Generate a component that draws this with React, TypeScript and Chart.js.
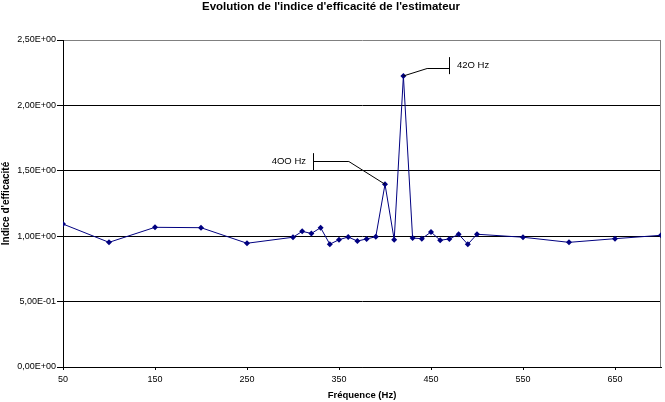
import React, { useEffect, useRef } from "react";
import { Chart, registerables } from "chart.js";

Chart.register(...registerables);

const frequencies = [50, 100, 150, 200, 250, 300, 310, 320, 330, 340, 350, 360, 370, 380, 390, 400, 410, 420, 430, 440, 450, 460, 470, 480, 490, 500, 550, 600, 650, 700];
const efficiency = [1.093, 0.953, 1.068, 1.065, 0.946, 0.992, 1.037, 1.021, 1.065, 0.939, 0.973, 0.994, 0.963, 0.979, 0.996, 1.397, 0.973, 2.225, 0.986, 0.981, 1.032, 0.969, 0.979, 1.015, 0.938, 1.015, 0.992, 0.953, 0.981, 1.007];

const xTickValues = [50, 150, 250, 350, 450, 550, 650];
const yTickValues = [0, 0.5, 1, 1.5, 2, 2.5];

const chartTitle = "Evolution de l'indice d'efficacité de l'estimateur";
const xAxisTitle = "Fréquence (Hz)";
const yAxisTitle = "Indice d'efficacité";

const calloutLabels = ["4OO Hz", "42O Hz"];
const calloutTargets = [400, 420];
const calloutTickHz = [321.6, 469.2];
const calloutLabelVal = [1.57, 2.304];
const calloutLeaderVal = [1.575, 2.284];
const calloutElbowHz = [360.7, 445.8];
const calloutSide = ["left", "right"];

const FONT = "'Liberation Sans', Arial, sans-serif";

function sci(v: number): string {
  const [m, e] = v.toExponential(2).split("e");
  const n = parseInt(e, 10);
  return m.replace(".", ",") + "E" + (n < 0 ? "-" : "+") + String(Math.abs(n)).padStart(2, "0");
}

const framePlugin = {
  id: "frame",
  beforeDatasetsDraw(chart: any) {
    const { ctx, chartArea: a } = chart;
    ctx.save();
    ctx.strokeStyle = "#808080";
    ctx.lineWidth = 1;
    ctx.beginPath();
    const rx = Math.round(a.right) - 0.5;
    ctx.moveTo(rx, Math.round(a.top));
    ctx.lineTo(rx, Math.round(a.bottom));
    ctx.stroke();
    ctx.restore();
  },
};

const calloutPlugin = {
  id: "callouts",
  afterDatasetsDraw(chart: any) {
    const { ctx } = chart;
    const xs = chart.scales.x;
    const ys = chart.scales.y;
    ctx.save();
    ctx.strokeStyle = "#000000";
    ctx.fillStyle = "#000000";
    ctx.lineWidth = 1;
    ctx.font = `9.5px ${FONT}`;
    ctx.textBaseline = "middle";
    for (let i = 0; i < calloutLabels.length; i++) {
      const idx = frequencies.indexOf(calloutTargets[i]);
      const px = xs.getPixelForValue(calloutTargets[i]);
      const py = ys.getPixelForValue(efficiency[idx]);
      const tx = Math.round(xs.getPixelForValue(calloutTickHz[i])) + 0.5;
      const ly = ys.getPixelForValue(calloutLabelVal[i]);
      const hy = Math.round(ys.getPixelForValue(calloutLeaderVal[i])) + 0.5;
      const ex = xs.getPixelForValue(calloutElbowHz[i]);
      ctx.beginPath();
      ctx.moveTo(tx, ly - 8.5);
      ctx.lineTo(tx, ly + 8.5);
      ctx.moveTo(tx, hy);
      ctx.lineTo(ex, hy);
      ctx.lineTo(px, py);
      ctx.stroke();
      if (calloutSide[i] === "left") {
        ctx.textAlign = "right";
        ctx.fillText(calloutLabels[i], tx - 7.5, ly);
      } else {
        ctx.textAlign = "left";
        ctx.fillText(calloutLabels[i], tx + 7.5, ly);
      }
    }
    ctx.restore();
  },
};

export default function App() {
  const canvasRef = useRef<HTMLCanvasElement | null>(null);

  useEffect(() => {
    const canvas = canvasRef.current;
    if (!canvas) return;
    const chart = new Chart(canvas, {
      type: "line",
      data: {
        datasets: [
          {
            data: frequencies.map((f, i) => ({ x: f, y: efficiency[i] })),
            borderColor: "#000080",
            backgroundColor: "#000080",
            borderWidth: 1,
            pointStyle: "rectRot",
            pointRadius: 3,
            pointBorderWidth: 0,
            tension: 0,
            fill: false,
          },
        ],
      },
      options: {
        responsive: false,
        animation: false,
        events: [],
        layout: { padding: { top: 0, right: 3, bottom: 0, left: 0 } },
        plugins: {
          legend: { display: false },
          tooltip: { enabled: false },
          title: {
            display: true,
            text: chartTitle,
            color: "#000000",
            font: { family: FONT, size: 11.5, weight: "bold", lineHeight: 1.2 },
            padding: { top: 0, bottom: 26.2 },
          },
        },
        scales: {
          x: {
            type: "linear",
            min: 50,
            max: 700,
            afterBuildTicks: (scale: any) => {
              scale.ticks = xTickValues.map((v) => ({ value: v }));
            },
            afterFit: (scale: any) => {
              scale.height = 35;
            },
            ticks: {
              color: "#000000",
              font: { family: FONT, size: 9 },
              padding: 4,
              maxRotation: 0,
              autoSkip: false,
              callback: (v: any) => String(v),
            },
            grid: {
              drawOnChartArea: false,
              drawTicks: true,
              tickLength: 3,
              tickColor: "#000000",
              color: "#000000",
            },
            border: { display: true, color: "#000000", width: 1 },
            title: {
              display: true,
              text: xAxisTitle,
              color: "#000000",
              font: { family: FONT, size: 9.5, weight: "bold" },
              padding: { top: 0, bottom: 1 },
            },
          },
          y: {
            type: "linear",
            min: 0,
            max: 2.5,
            afterBuildTicks: (scale: any) => {
              scale.ticks = yTickValues.map((v) => ({ value: v }));
            },
            afterFit: (scale: any) => {
              scale.width = 63;
            },
            ticks: {
              color: "#000000",
              font: { family: FONT, size: 9 },
              padding: 1,
              callback: (v: any) => sci(Number(v)),
            },
            grid: {
              drawTicks: true,
              tickLength: 6,
              tickColor: "#000000",
              color: (c: any) => (c.tick && c.tick.value >= 2.5 ? "#808080" : "#000000"),
              lineWidth: 1,
            },
            border: { display: true, color: "#000000", width: 1 },
            title: {
              display: true,
              text: yAxisTitle,
              color: "#000000",
              font: { family: FONT, size: 10, weight: "bold" },
              padding: { top: 0, bottom: 0 },
            },
          },
        },
      },
      plugins: [framePlugin, calloutPlugin],
    } as any);
    return () => chart.destroy();
  }, []);

  return (
    <div style={{ position: "absolute", left: 0, top: 0, width: 665, height: 402, background: "#ffffff" }}>
      <canvas ref={canvasRef} width={665} height={402} style={{ display: "block" }} />
    </div>
  );
}
